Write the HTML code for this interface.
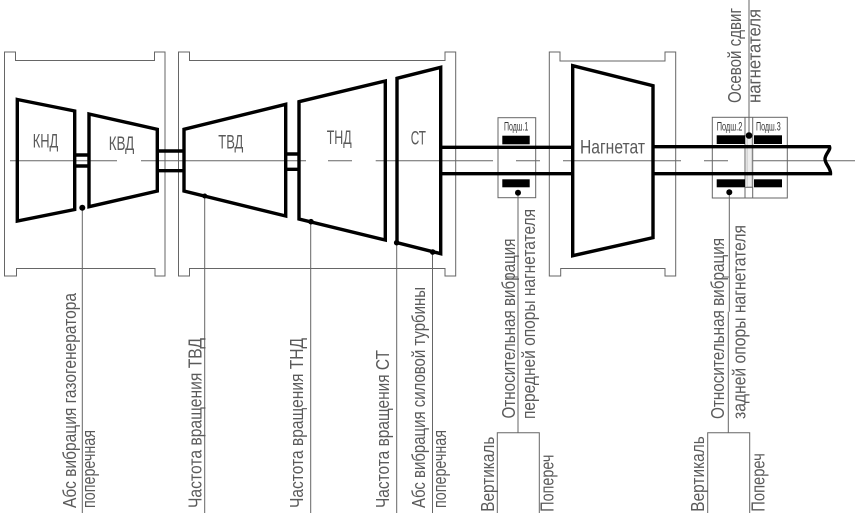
<!DOCTYPE html>
<html lang="ru">
<head>
<meta charset="utf-8">
<title>Схема</title>
<style>
html,body{margin:0;padding:0;background:#fff;width:855px;height:523px;overflow:hidden}
svg{display:block}
text{font-family:"Liberation Sans",sans-serif;fill:#5a5a5a}
.sm text{fill:#333}
.thin{fill:none;stroke:#666;stroke-width:1}
.thick{fill:none;stroke:#000;stroke-width:3.4;stroke-linejoin:miter}
</style>
</head>
<body>
<svg width="855" height="523" viewBox="0 0 855 523" xmlns="http://www.w3.org/2000/svg">
<!-- frames -->
<path class="thin" d="M4.5 52H15.5V60.5H154.5V52H165V276H155V268.500H16.500V276H4.500Z"/>
<path class="thin" d="M178.500 52H189.500V60.500H445V52H455.700V276H445V268.500H189.500V276H178.500Z"/>
<path class="thin" d="M549.300 52H560V61H665V52H675.700V276H665V268.500H560.700V276H549.300Z"/>

<!-- centreline -->
<g class="thin">
<path d="M10 160.700H117M141 160.700H306M328 160.700H352M375.700 160.700H493M516 160.700H540M563 160.700H681M704 160.700H728M752 160.700H855"/>
</g>

<!-- bearings -->
<rect class="thin" x="498" y="117.700" width="37.700" height="80"/>
<rect class="thin" x="712.300" y="117.300" width="75" height="80.700"/>
<path class="thin" d="M745 117.300V198M752.700 117.300V198"/>
<rect x="747" y="137" width="5" height="50" fill="#eee" stroke="#aaa" stroke-width="0.7"/>
<path class="thin" d="M745 187.300H752.700"/>
<g fill="#000">
<rect x="502.300" y="135.700" width="27.400" height="8.600"/>
<rect x="502.300" y="179.300" width="27.400" height="8"/>
<rect x="716.700" y="135.300" width="28.300" height="8.700"/>
<rect x="754" y="135.300" width="28" height="8.700"/>
<rect x="716.700" y="179.300" width="28.300" height="8"/>
<rect x="754" y="179.300" width="28" height="8"/>
</g>

<!-- rotors -->
<g class="thick">
<path d="M17.300 99.500L74.700 111V209.500L17.300 221Z"/>
<path d="M89 114L157.300 129.300V191L89 206.700Z"/>
<path d="M184 129.300L285.700 104.300V216L184 191Z"/>
<path d="M299 101.700L385.300 81V240L299 219Z"/>
<path d="M397 78.300L440.700 67.300V253.700L397 242.700Z"/>
<path d="M572.700 65.700L653 85.700V237.700L572.700 255.700Z"/>
<path d="M74.700 155H89M74.700 166H89"/>
<path d="M157.300 151H184M157.300 170.700H184"/>
<path d="M285.700 154H299M285.700 169.300H299"/>
<path d="M440.700 147.300H572.700M440.700 173.700H572.700"/>
<path d="M653 146.700H829.500C831 150 825 154 825 159C825 164 831 168 830.500 173.700H653"/>
</g>

<!-- leaders -->
<g class="thin">
<path d="M82.300 207.700V513M204.700 196V513M310.700 221.700V513M396.700 242.700V513M432.500 252V513"/>
<path d="M518 192.700V432.700"/>
<path d="M497.300 513V432.700H539.300V513"/>
<path d="M749 0V135"/>
<path d="M729.300 192.300V311.700M728.300 311.700V432.700"/>
<path d="M707.700 513V432.700H749.700V513"/>
<path d="M505 277H518M723 277H729"/>
</g>
<g fill="#000">
<circle cx="82.300" cy="207.700" r="3"/>
<circle cx="204.700" cy="196" r="2.500"/>
<circle cx="311" cy="221.700" r="2.800"/>
<circle cx="396.700" cy="242.700" r="2.800"/>
<circle cx="432.700" cy="252" r="2.800"/>
<circle cx="518" cy="192.700" r="3"/>
<circle cx="749" cy="135.500" r="3.300"/>
<circle cx="729.300" cy="192.300" r="3"/>
</g>

<!-- horizontal labels -->
<g font-size="19">
<text x="32.700" y="147.300" textLength="25.600" lengthAdjust="spacingAndGlyphs">КНД</text>
<text x="108.700" y="149.800" textLength="25.600" lengthAdjust="spacingAndGlyphs">КВД</text>
<text x="218.300" y="148.300" textLength="25" lengthAdjust="spacingAndGlyphs">ТВД</text>
<text x="326.700" y="144" textLength="25" lengthAdjust="spacingAndGlyphs">ТНД</text>
<text x="410.700" y="144.300" textLength="15.300" lengthAdjust="spacingAndGlyphs">СТ</text>
<text x="580" y="153.300" textLength="65" lengthAdjust="spacingAndGlyphs">Нагнетат</text>
</g>
<g font-size="12" class="sm">
<text x="504" y="130.700" textLength="24.300" lengthAdjust="spacingAndGlyphs">Подш.1</text>
<text x="716.700" y="130.700" textLength="25.600" lengthAdjust="spacingAndGlyphs">Подш.2</text>
<text x="756" y="130.700" textLength="24.700" lengthAdjust="spacingAndGlyphs">Подш.3</text>
</g>

<!-- rotated labels -->
<g font-size="18">
<text transform="translate(76 508) rotate(-90)" textLength="215" lengthAdjust="spacingAndGlyphs">Абс вибрация газогенератора</text>
<text transform="translate(95 508) rotate(-90)" textLength="78" lengthAdjust="spacingAndGlyphs">поперечная</text>
<text transform="translate(201.500 508) rotate(-90)" textLength="170" lengthAdjust="spacingAndGlyphs">Частота вращения ТВД</text>
<text transform="translate(303 508) rotate(-90)" textLength="170" lengthAdjust="spacingAndGlyphs">Частота вращения ТНД</text>
<text transform="translate(389 508) rotate(-90)" textLength="158" lengthAdjust="spacingAndGlyphs">Частота вращения СТ</text>
<text transform="translate(425 508) rotate(-90)" textLength="221" lengthAdjust="spacingAndGlyphs">Абс вибрация силовой турбины</text>
<text transform="translate(446 508) rotate(-90)" textLength="78" lengthAdjust="spacingAndGlyphs">поперечная</text>
<text transform="translate(494 511.700) rotate(-90)" textLength="75" lengthAdjust="spacingAndGlyphs">Вертикаль</text>
<text transform="translate(553.500 511.700) rotate(-90)" textLength="57" lengthAdjust="spacingAndGlyphs">Попереч</text>
<text transform="translate(515 418.500) rotate(-90)" textLength="180" lengthAdjust="spacingAndGlyphs">Относительная вибрация</text>
<text transform="translate(535 419) rotate(-90)" textLength="210" lengthAdjust="spacingAndGlyphs">передней опоры нагнетателя</text>
<text transform="translate(704 511.700) rotate(-90)" textLength="75.500" lengthAdjust="spacingAndGlyphs">Вертикаль</text>
<text transform="translate(764.500 511.700) rotate(-90)" textLength="58.500" lengthAdjust="spacingAndGlyphs">Попереч</text>
<text transform="translate(724 419) rotate(-90)" textLength="181" lengthAdjust="spacingAndGlyphs">Относительная вибрация</text>
<text transform="translate(745.500 419) rotate(-90)" textLength="194" lengthAdjust="spacingAndGlyphs">задней опоры нагнетателя</text>
<text transform="translate(741 103) rotate(-90)" textLength="95" lengthAdjust="spacingAndGlyphs">Осевой сдвиг</text>
<text transform="translate(760.500 103) rotate(-90)" textLength="94" lengthAdjust="spacingAndGlyphs">нагнетателя</text>
</g>
</svg>
</body>
</html>
